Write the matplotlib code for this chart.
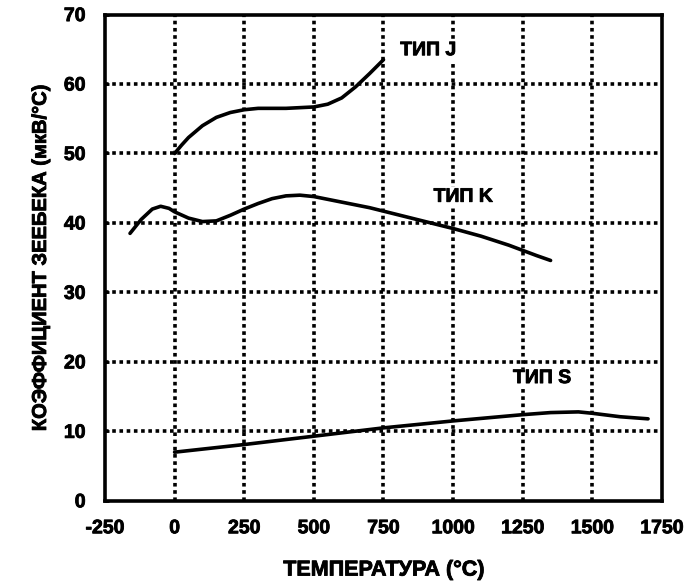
import numpy as np
import matplotlib as mpl
mpl.use('Agg')
from matplotlib import pyplot as plt
from matplotlib import patheffects as pe

plt.rcParams['font.family'] = ['Liberation Sans', 'DejaVu Sans']
plt.rcParams['font.weight'] = 'bold'
plt.rcParams['axes.unicode_minus'] = False

# thermocouple curves (temperature in C, coefficient in uV/C)
t_j = [0, 25, 50, 100, 150, 200, 250, 300, 400, 500, 550, 600, 650, 700, 750]
s_j = [50.0, 51.2, 52.3, 54.0, 55.2, 55.9, 56.3, 56.5, 56.5, 56.7, 57.1, 58.0, 59.6, 61.5, 63.5]

t_k = [-160, -120, -80, -50, -20, 0, 50, 100, 150, 200, 250, 300, 350, 400, 450, 500,
       600, 700, 800, 900, 1000, 1100, 1200, 1300, 1350]
s_k = [38.5, 40.5, 42.0, 42.4, 42.1, 41.6, 40.7, 40.2, 40.3, 41.1, 42.0, 42.8, 43.5, 43.9, 44.0, 43.8,
       43.0, 42.2, 41.2, 40.2, 39.2, 38.1, 36.8, 35.3, 34.6]

t_s = [0, 250, 500, 750, 1000, 1250, 1350, 1450, 1500, 1600, 1700]
s_s = [7.0, 8.1, 9.3, 10.5, 11.5, 12.4, 12.7, 12.8, 12.6, 12.1, 11.8]

x_ticks = [-250, 0, 250, 500, 750, 1000, 1250, 1500, 1750]
y_ticks = [0, 10, 20, 30, 40, 50, 60, 70]
labels = ['ТИП J', 'ТИП K', 'ТИП S']
label_pos = [(810, 64.8), (930, 43.7), (1215, 17.6)]

heavy = [pe.withStroke(linewidth=0.6, foreground='black')]

fig = plt.figure(figsize=(6.86, 5.83), dpi=100)
ax = fig.add_axes([0.153, 0.141, 0.812, 0.834])

# dotted grid
for x in x_ticks[1:-1]:
    ax.axvline(x, color='black', lw=2.6, ls=(0, (1, 1)), zorder=1)
for y in y_ticks[1:-1]:
    ax.axhline(y, color='black', lw=2.6, ls=(0, (1, 1)), zorder=1)

for t, s in [(t_j, s_j), (t_k, s_k), (t_s, s_s)]:
    ax.plot(t, s, color='black', lw=2.6, solid_capstyle='round', zorder=3)

for lab, (x, y) in zip(labels, label_pos):
    ax.text(x, y, lab, fontsize=14, fontweight='bold', ha='left', va='center', zorder=4,
            path_effects=heavy,
            bbox=dict(facecolor='white', edgecolor='none', pad=1))

ax.set_xlim(-250, 1740)
ax.set_ylim(0, 70)
ax.set_xticks(x_ticks)
ax.set_yticks(y_ticks)
ax.tick_params(axis='x', length=0, pad=14, labelsize=14)
ax.tick_params(axis='y', direction='in', length=3, width=2, pad=14, labelsize=14)
for lbl in ax.get_xticklabels() + ax.get_yticklabels():
    lbl.set_path_effects(heavy)
for sp in ax.spines.values():
    sp.set_linewidth(2.6)

ax.set_xlabel('ТЕМПЕРАТУРА (°C)', fontsize=15.5, fontweight='bold', labelpad=16,
              path_effects=heavy)
ax.set_ylabel('КОЭФФИЦИЕНТ ЗЕЕБЕКА (мкВ/°С)', fontsize=14.5, fontweight='bold', labelpad=10,
              path_effects=heavy)

plt.savefig('out.png', dpi=100)
